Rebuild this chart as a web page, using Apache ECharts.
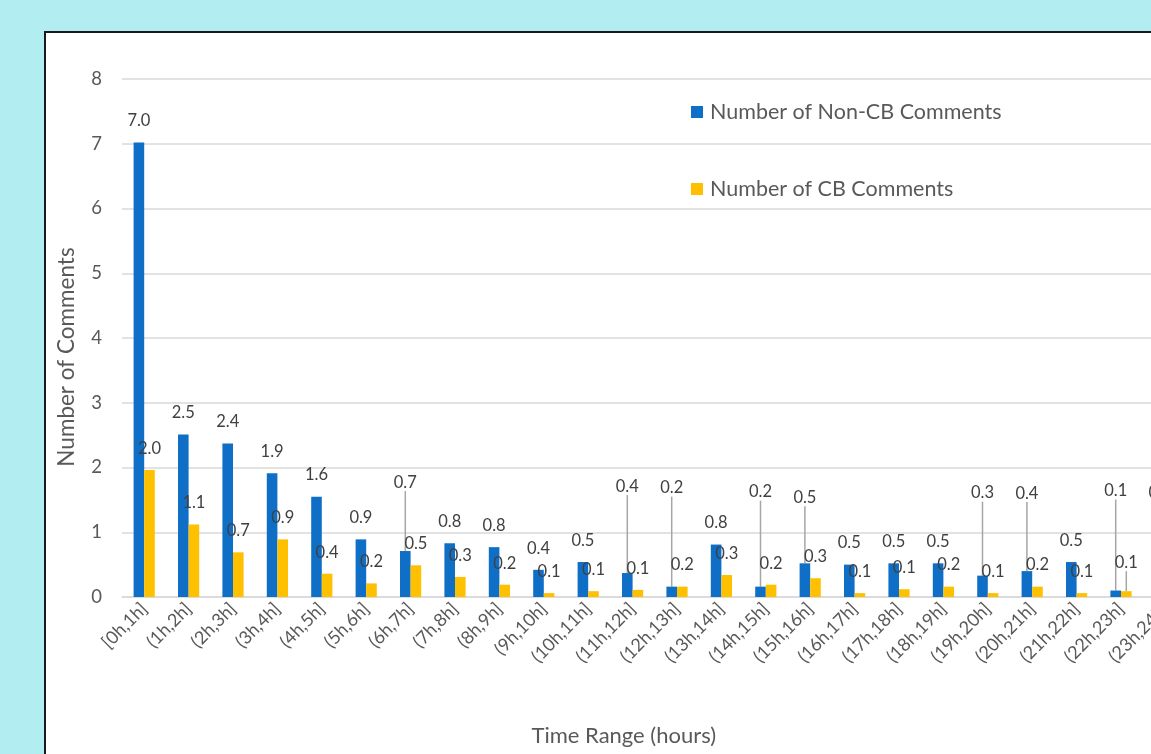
<!DOCTYPE html>
<html>
<head>
<meta charset="utf-8">
<script src="https://cdn.jsdelivr.net/npm/echarts@6/dist/echarts.min.js"></script>
<style>
  html, body { margin: 0; padding: 0; background: #b2eef1; overflow: hidden; }
  #frame {
    position: absolute; left: 44px; top: 31px; width: 1200px; height: 800px;
    background: #ffffff; border: 2px solid #1a1a1a; box-sizing: border-box;
  }
  #chart { position: absolute; left: 0; top: 0; width: 1151px; height: 754px; }
</style>
</head>
<body>
<div id="frame"></div>
<div id="chart"></div>
<script>
// Hourly time ranges after posting
const categories = [
  '[0h,1h]', '(1h,2h]', '(2h,3h]', '(3h,4h]', '(4h,5h]', '(5h,6h]',
  '(6h,7h]', '(7h,8h]', '(8h,9h]', '(9h,10h]', '(10h,11h]', '(11h,12h]',
  '(12h,13h]', '(13h,14h]', '(14h,15h]', '(15h,16h]', '(16h,17h]', '(17h,18h]',
  '(18h,19h]', '(19h,20h]', '(20h,21h]', '(21h,22h]', '(22h,23h]', '(23h,24h]'
];

// Average number of comments per range
const nonCbComments = [
  7.02, 2.51, 2.37, 1.91, 1.55, 0.89, 0.71, 0.83, 0.77, 0.42, 0.54, 0.37,
  0.16, 0.81, 0.16, 0.52, 0.50, 0.52, 0.52, 0.33, 0.40, 0.54, 0.10, 0.12
];
const cbComments = [
  1.96, 1.12, 0.69, 0.89, 0.36, 0.21, 0.49, 0.31, 0.19, 0.06, 0.09, 0.11,
  0.16, 0.34, 0.19, 0.29, 0.06, 0.12, 0.16, 0.06, 0.16, 0.06, 0.09, 0.05
];

// Value axis ticks
const yMin = 0, yMax = 8, yStep = 1;

// Labels pulled upward (px) with a leader line back to their bar
const nonCbLabelLift = { 6: -47, 11: -65, 12: -77, 14: -73, 15: -44, 19: -61, 20: -56, 22: -78, 23: -75 };
const cbLabelLift = { 22: -7 };

const FONT = 'Lato, "Open Sans", sans-serif';
const BLUE = '#0f6fc6';
const GOLD = '#ffc000';

function withLeaders(values, lifts) {
  return values.map((v, i) => lifts[i] !== undefined
    ? { value: v, labelLine: { show: true } }
    : v);
}

function barSeries(name, values, color, lifts) {
  return {
    name,
    type: 'bar',
    data: withLeaders(values, lifts),
    barWidth: 10.6,
    barGap: '0%',
    itemStyle: { color },
    label: {
      show: true,
      position: 'top',
      distance: 13,
      color: '#404040',
      fontFamily: FONT,
      fontSize: 16.5,
      formatter: p => Number(p.value).toFixed(1)
    },
    labelLine: {
      show: false,
      lineStyle: { color: '#a6a6a6', width: 1.5 }
    },
    labelLayout: p => (lifts[p.dataIndex] !== undefined ? { dy: lifts[p.dataIndex] } : {})
  };
}

const chart = echarts.init(document.getElementById('chart'), null, { renderer: 'canvas' });

chart.setOption({
  backgroundColor: 'transparent',
  animation: false,
  legend: {
    orient: 'vertical',
    left: 686,
    top: 96,
    itemWidth: 12,
    itemHeight: 12,
    itemGap: 55,
    icon: 'rect',
    textStyle: { color: '#595959', fontFamily: FONT, fontSize: 21.5, padding: [0, 0, 0, 2] },
    data: ['Number of Non-CB Comments', 'Number of CB Comments']
  },
  grid: {
    left: 122,
    top: 79,
    width: 1065.6,
    bottom: 157,
    outerBoundsMode: 'none',
    containLabel: false
  },
  xAxis: {
    type: 'category',
    data: categories,
    axisLine: { show: true, lineStyle: { color: '#d9d9d9', width: 1.5 } },
    axisTick: { show: false },
    axisLabel: {
      interval: 0,
      rotate: 45,
      margin: 9,
      color: '#595959',
      fontFamily: FONT,
      fontSize: 18
    },
    name: 'Time Range (hours)',
    nameLocation: 'middle',
    nameGap: 128,
    nameTextStyle: { color: '#595959', fontFamily: FONT, fontSize: 22, padding: [0, 62, 0, 0] }
  },
  yAxis: {
    type: 'value',
    min: yMin,
    max: yMax,
    interval: yStep,
    axisLine: { show: false },
    axisTick: { show: false },
    splitLine: { lineStyle: { color: '#d9d9d9', width: 1.5 } },
    axisLabel: { color: '#595959', fontFamily: FONT, fontSize: 18.5, margin: 20 },
    name: 'Number of Comments',
    nameLocation: 'middle',
    nameGap: 44,
    nameTextStyle: { color: '#595959', fontFamily: FONT, fontSize: 22.5, padding: [0, 38, 0, 0] }
  },
  series: [
    barSeries('Number of Non-CB Comments', nonCbComments, BLUE, nonCbLabelLift),
    barSeries('Number of CB Comments', cbComments, GOLD, cbLabelLift)
  ]
});
</script>
</body>
</html>
